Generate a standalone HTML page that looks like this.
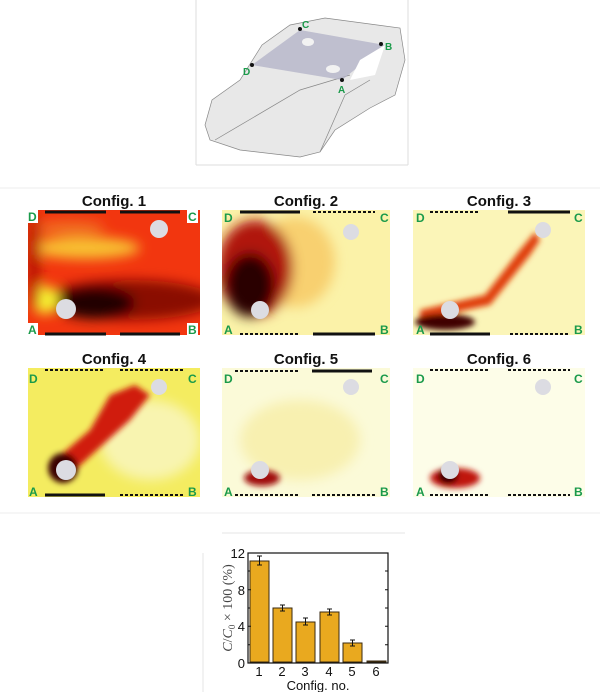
<!DOCTYPE html>
<html><head><meta charset="utf-8"><style>
html,body{margin:0;padding:0;background:#fff;width:600px;height:692px;overflow:hidden}
svg{display:block}
text{font-family:"Liberation Sans",sans-serif}
.ser{font-family:"Liberation Serif",serif}
</style></head><body>
<svg width="600" height="692" viewBox="0 0 600 692" xmlns="http://www.w3.org/2000/svg">
<defs>
<filter id="b6" x="-50%" y="-50%" width="200%" height="200%"><feGaussianBlur stdDeviation="6"/></filter>
<filter id="b3" x="-50%" y="-50%" width="200%" height="200%"><feGaussianBlur stdDeviation="3"/></filter>
<clipPath id="c1"><rect x="28" y="210" width="172" height="125"/></clipPath>
<clipPath id="c2"><rect x="222" y="210" width="168" height="125"/></clipPath>
<clipPath id="c3"><rect x="413" y="210" width="172" height="125"/></clipPath>
<clipPath id="c4"><rect x="28" y="368" width="172" height="129"/></clipPath>
<clipPath id="c5"><rect x="222" y="368" width="168" height="129"/></clipPath>
<clipPath id="c6"><rect x="413" y="368" width="172" height="129"/></clipPath>
</defs>
<!-- car image -->
<line x1="196" y1="0" x2="196" y2="165" stroke="#ddd"/>
<line x1="408" y1="0" x2="408" y2="165" stroke="#ddd"/>
<line x1="196" y1="165" x2="408" y2="165" stroke="#ddd"/>
<g stroke="#888" stroke-width="0.7" fill="#e8e8e8">
<path d="M205 125 L212 100 L240 80 L262 45 L290 25 L325 18 L400 28 L405 60 L395 95 L370 108 L335 130 L320 152 L300 157 L240 150 L210 140 Z"/>
<path d="M215 140 L300 90 L350 75 M320 152 L345 95 L370 80" fill="none"/>
</g>
<path d="M252 65 L300 30 L385 45 L342 80 Z" fill="#b4b4c8" opacity="0.8"/>
<ellipse cx="308" cy="42" rx="6" ry="4" fill="#f2f2f2"/><ellipse cx="333" cy="69" rx="7" ry="4" fill="#f2f2f2"/>
<path d="M360 60 L385 45 L375 75 L350 80 Z" fill="#fff"/>
<g fill="#111"><circle cx="300" cy="29" r="2"/><circle cx="381" cy="44" r="2"/><circle cx="342" cy="80" r="2"/><circle cx="252" cy="65" r="2"/></g>
<g fill="#1a9a4a" font-weight="bold" font-size="10"><text x="302" y="28">C</text><text x="385" y="50">B</text><text x="338" y="93">A</text><text x="243" y="75">D</text></g>
<line x1="0" y1="188" x2="600" y2="188" stroke="#eee"/>
<line x1="0" y1="513" x2="600" y2="513" stroke="#eee"/>
<g font-weight="bold" font-size="15" text-anchor="middle" fill="#111">
<text x="114" y="206">Config. 1</text><text x="306" y="206">Config. 2</text><text x="499" y="206">Config. 3</text>
<text x="114" y="364">Config. 4</text><text x="306" y="364">Config. 5</text><text x="499" y="364">Config. 6</text>
</g>
<!-- P1 -->
<g clip-path="url(#c1)">
<rect x="28" y="210" width="172" height="125" fill="#f2360f"/>
<g filter="url(#b6)">
<ellipse cx="85" cy="248" rx="55" ry="11" fill="#f8c030"/>
<ellipse cx="70" cy="228" rx="35" ry="7" fill="#f07020"/>
<ellipse cx="130" cy="300" rx="85" ry="20" fill="#8a0a05"/>
<ellipse cx="95" cy="303" rx="40" ry="16" fill="#200000"/>
<ellipse cx="45" cy="300" rx="14" ry="14" fill="#f8f030"/>
<ellipse cx="34" cy="260" rx="6" ry="50" fill="#b01505"/>
</g>
</g>
<!-- P2 -->
<g clip-path="url(#c2)">
<rect x="222" y="210" width="168" height="125" fill="#fbf2a8"/>
<g filter="url(#b6)">
<ellipse cx="295" cy="262" rx="40" ry="45" fill="#f8d070"/>
<ellipse cx="255" cy="268" rx="38" ry="48" fill="#b01208"/>
<ellipse cx="250" cy="285" rx="25" ry="32" fill="#2a0000"/>
</g>
</g>
<!-- P3 -->
<g clip-path="url(#c3)">
<rect x="413" y="210" width="172" height="125" fill="#fbf5b8"/>
<g filter="url(#b3)">
<path d="M420 320 L490 305 L530 255 L540 240 L535 232 L520 250 L485 295 L420 310 Z" fill="#e04010"/>
<ellipse cx="445" cy="322" rx="30" ry="8" fill="#400000"/>
</g>
</g>
<!-- P4 -->
<g clip-path="url(#c4)">
<rect x="28" y="368" width="172" height="129" fill="#f4ec60"/>
<g filter="url(#b6)"><ellipse cx="150" cy="440" rx="50" ry="40" fill="#f8f4b0"/></g>
<g filter="url(#b3)">
<path d="M55 460 L75 470 L130 420 L150 395 L135 385 L110 395 L90 430 Z" fill="#d01a0a"/>
<circle cx="63" cy="468" r="15" fill="#3a0000"/>
</g>
</g>
<!-- P5 -->
<g clip-path="url(#c5)">
<rect x="222" y="368" width="168" height="129" fill="#fbfad8"/>
<g filter="url(#b6)"><ellipse cx="300" cy="440" rx="60" ry="40" fill="#f8f0b0"/></g>
<g filter="url(#b3)"><ellipse cx="262" cy="478" rx="18" ry="8" fill="#a01008"/></g>
</g>
<!-- P6 -->
<g clip-path="url(#c6)">
<rect x="413" y="368" width="172" height="129" fill="#fdfde8"/>
<g filter="url(#b3)"><ellipse cx="455" cy="478" rx="25" ry="10" fill="#c01808"/><ellipse cx="448" cy="476" rx="10" ry="8" fill="#300000"/></g>
</g>
<g fill="#dcdce2">
<circle cx="66" cy="309" r="10"/><circle cx="159" cy="229" r="9"/>
<circle cx="260" cy="310" r="9"/><circle cx="351" cy="232" r="8"/>
<circle cx="450" cy="310" r="9"/><circle cx="543" cy="230" r="8"/>
<circle cx="66" cy="470" r="10"/><circle cx="159" cy="387" r="8"/>
<circle cx="260" cy="470" r="9"/><circle cx="351" cy="387" r="8"/>
<circle cx="450" cy="470" r="9"/><circle cx="543" cy="387" r="8"/>
</g>
<g stroke="#111" stroke-width="3">
<line x1="45" y1="212" x2="106" y2="212"/><line x1="120" y1="212" x2="180" y2="212"/>
<line x1="45" y1="334" x2="106" y2="334"/><line x1="120" y1="334" x2="180" y2="334"/>
<line x1="240" y1="212" x2="300" y2="212"/><line x1="313" y1="334" x2="375" y2="334"/>
<line x1="508" y1="212" x2="570" y2="212"/><line x1="430" y1="334" x2="490" y2="334"/>
<line x1="45" y1="495" x2="105" y2="495"/><line x1="312" y1="371" x2="372" y2="371"/>
</g>
<g stroke="#111" stroke-width="2" stroke-dasharray="3,2">
<line x1="313" y1="212" x2="375" y2="212"/><line x1="240" y1="334" x2="300" y2="334"/>
<line x1="430" y1="212" x2="480" y2="212"/><line x1="510" y1="334" x2="570" y2="334"/>
<line x1="45" y1="370" x2="105" y2="370"/><line x1="120" y1="370" x2="185" y2="370"/><line x1="120" y1="495" x2="185" y2="495"/>
<line x1="235" y1="371" x2="300" y2="371"/><line x1="235" y1="495" x2="300" y2="495"/><line x1="312" y1="495" x2="375" y2="495"/>
<line x1="430" y1="370" x2="490" y2="370"/><line x1="508" y1="370" x2="570" y2="370"/><line x1="430" y1="495" x2="490" y2="495"/><line x1="508" y1="495" x2="570" y2="495"/>
</g>
<g font-weight="bold" font-size="12" fill="#1a9a4a">
<rect x="27" y="210" width="11" height="13" fill="#fff"/><text x="28" y="221">D</text>
<rect x="187" y="210" width="11" height="13" fill="#fff"/><text x="188" y="221">C</text>
<rect x="27" y="323" width="11" height="13" fill="#fff"/><text x="28" y="334">A</text>
<rect x="187" y="323" width="11" height="13" fill="#fff"/><text x="188" y="334">B</text>
<text x="224" y="222">D</text><text x="380" y="222">C</text><text x="224" y="334">A</text><text x="380" y="334">B</text>
<text x="416" y="222">D</text><text x="574" y="222">C</text><text x="416" y="334">A</text><text x="574" y="334">B</text>
<text x="29" y="383">D</text><text x="188" y="383">C</text><text x="29" y="496">A</text><text x="188" y="496">B</text>
<text x="224" y="383">D</text><text x="380" y="383">C</text><text x="224" y="496">A</text><text x="380" y="496">B</text>
<text x="416" y="383">D</text><text x="574" y="383">C</text><text x="416" y="496">A</text><text x="574" y="496">B</text>
</g>
<!-- bar chart -->
<line x1="222" y1="533" x2="405" y2="533" stroke="#e6e6e6"/>
<line x1="203" y1="553" x2="203" y2="692" stroke="#e6e6e6"/>
<g fill="#e9a91f" stroke="#3a2a10" stroke-width="1">
<rect x="250" y="561" width="19" height="101"/>
<rect x="273" y="608" width="19" height="54"/>
<rect x="296" y="622" width="19" height="40"/>
<rect x="320" y="612" width="19" height="50"/>
<rect x="343" y="643" width="19" height="19"/>
<rect x="367" y="661" width="19" height="1"/>
</g>
<g stroke="#111" stroke-width="1">
<path d="M259.5 556v9M257 556h5M257 565h5"/>
<path d="M282.5 605v6M280 605h5M280 611h5"/>
<path d="M305.5 618v7M303 618h5M303 625h5"/>
<path d="M329.5 609v6M327 609h5M327 615h5"/>
<path d="M352.5 640v6M350 640h5M350 646h5"/>
</g>
<rect x="248" y="553" width="140" height="110" fill="none" stroke="#111" stroke-width="1.2"/>
<g stroke="#111"><path d="M248 589.7h3M248 626.3h3M385 589.7h3M385 626.3h3M385 571h3M385 608h3M385 644.7h3M248 571h2M248 608h2M248 644.7h2"/></g>
<g font-size="13" fill="#111" text-anchor="end"><text x="245" y="558">12</text><text x="245" y="595">8</text><text x="245" y="631">4</text><text x="245" y="668">0</text></g>
<g font-size="13" fill="#111" text-anchor="middle"><text x="259" y="676">1</text><text x="282" y="676">2</text><text x="305" y="676">3</text><text x="329" y="676">4</text><text x="352" y="676">5</text><text x="376" y="676">6</text>
<text x="318" y="690">Config. no.</text></g>
<text class="ser" transform="translate(232 608) rotate(-90)" font-size="14" text-anchor="middle" fill="#444"><tspan font-style="italic">C</tspan>/<tspan font-style="italic">C</tspan><tspan font-size="9" dy="3">0</tspan><tspan dy="-3"> × 100 (%)</tspan></text>
</svg>
</body></html>
